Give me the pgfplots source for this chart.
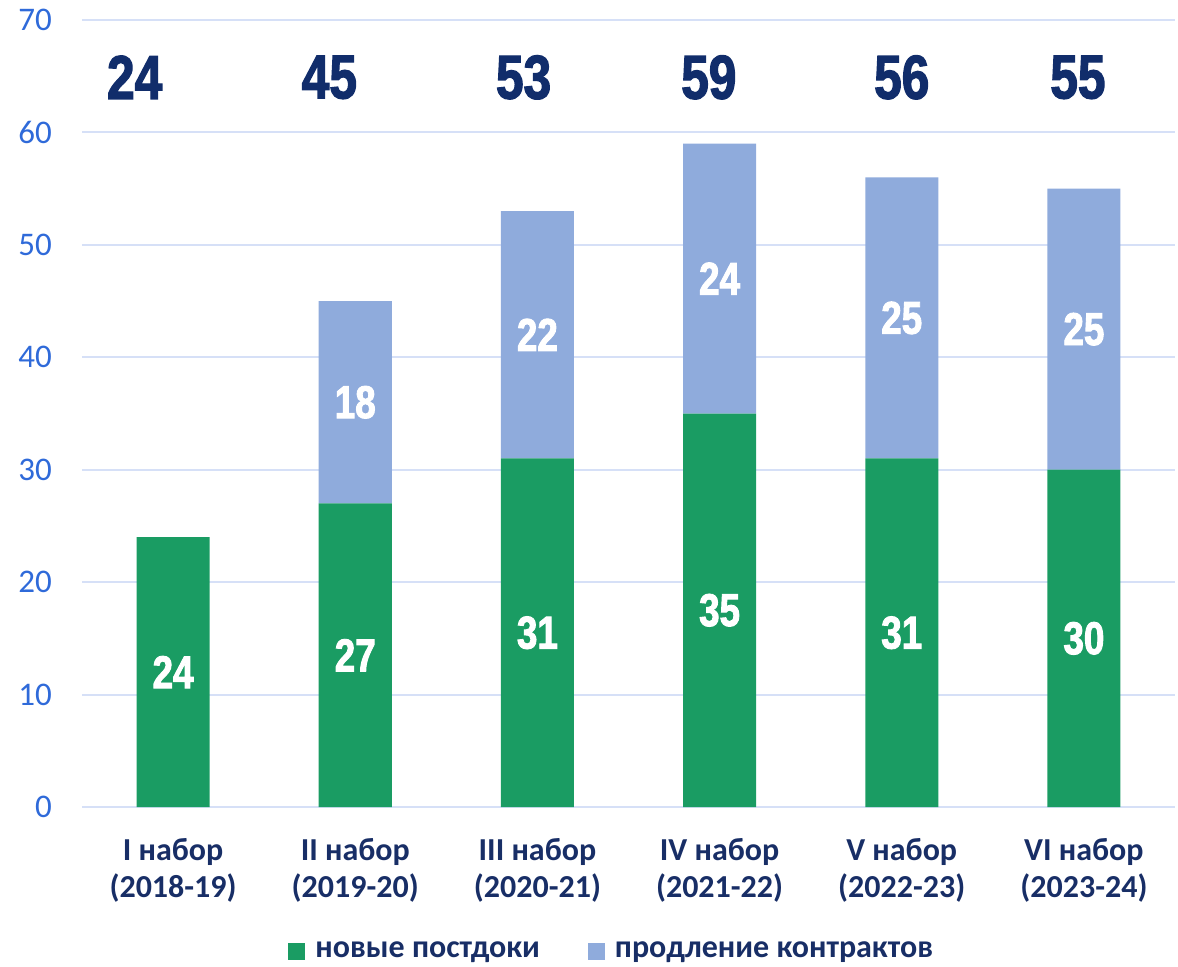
\documentclass[border=0pt]{standalone}
\usepackage{fontspec}
\setmainfont{Carlito}
\newfontfamily\impactfont{Liberation Sans}[FakeStretch=0.8, BoldFeatures={FakeBold=2}]
\usepackage{pgfplots}
\usepackage{pgfplotstable}
\pgfplotsset{compat=1.18}
\definecolor{cgreen}{RGB}{26,156,99}
\definecolor{cblue}{RGB}{143,171,220}
\definecolor{ctotal}{RGB}{17,45,107}
\definecolor{cnavy}{RGB}{24,46,102}
\definecolor{ctick}{RGB}{47,106,217}
\definecolor{cgrid}{RGB}{214,224,247}
\pgfplotstableread{
x green blue
0 24 0
1 27 18
2 31 22
3 35 24
4 31 25
5 30 25
}\data
\begin{document}
\begin{tikzpicture}
\path[use as bounding box] (-41pt,-79.5pt) rectangle (548pt,403.5pt);
\begin{axis}[
  at={(0,0)}, anchor=south west,
  scale only axis, width=546.5pt, height=393.5pt,
  ybar stacked, bar width=36.5pt,
  xmin=-0.5, xmax=5.5, ymin=0, ymax=70,
  ytick={0,10,...,70},
  xtick={0,...,5},
  xticklabels={{I набор\\(2018-19)},{II набор\\(2019-20)},{III набор\\(2020-21)},{IV набор\\(2021-22)},{V набор\\(2022-23)},{VI набор\\(2023-24)}},
  /pgf/number format/assume math mode=true,
  axis line style={draw=none},
  tick style={draw=none},
  ymajorgrids, grid style={cgrid, line width=1pt},
  yticklabel style={font=\fontsize{16.5}{18}\selectfont, text=ctick, xshift=-11.5pt},
  xticklabel style={font=\fontsize{16}{18.5}\selectfont\bfseries, text=cnavy, align=center, yshift=-12pt},
  legend style={at={(0.1885,-0.183)}, anchor=west, draw=none, fill=none, inner sep=0pt,
    font=\fontsize{16}{18}\selectfont\bfseries, text=cnavy,
    /tikz/every odd column/.append style={column sep=3pt},
    /tikz/every even column/.append style={column sep=22pt}},
  legend columns=2,
  legend cell align=left,
  legend image code/.code={\fill[#1] (0pt,-4.25pt) rectangle (8.5pt,4.25pt);},
]
\addplot[fill=cgreen, draw=none] table[x=x, y=green]{\data};
\addplot[fill=cblue, draw=none] table[x=x, y=blue]{\data};
\legend{новые постдоки, продление контрактов}
\end{axis}
\begin{axis}[
  at={(0,0)}, anchor=south west,
  scale only axis, width=546.5pt, height=393.5pt,
  xmin=-0.5, xmax=5.5, ymin=0, ymax=70,
  hide axis, clip=false,
  nodes near coords, point meta=explicit symbolic,
]
\addplot[draw=none, mark=none, nodes near coords style={anchor=center, text=white, font=\impactfont\bfseries\fontsize{23}{23}\selectfont}]
  table[x=x, y expr=\thisrow{green}/2, meta=green]{\data};
\addplot[draw=none, mark=none, skip coords between index={0}{1}, nodes near coords style={anchor=center, text=white, font=\impactfont\bfseries\fontsize{23}{23}\selectfont}]
  table[x=x, y expr=\thisrow{green}+\thisrow{blue}/2, meta=blue]{\data};
\addplot[draw=none, mark=none, nodes near coords style={anchor=center, text=ctotal, font=\impactfont\bfseries\fontsize{31}{31}\selectfont}]
  coordinates {(-0.211,64.9)[24] (0.858,64.9)[45] (1.924,64.9)[53] (2.941,64.9)[59] (4.0,64.9)[56] (4.967,64.9)[55]};
\end{axis}
\end{tikzpicture}
\end{document}
